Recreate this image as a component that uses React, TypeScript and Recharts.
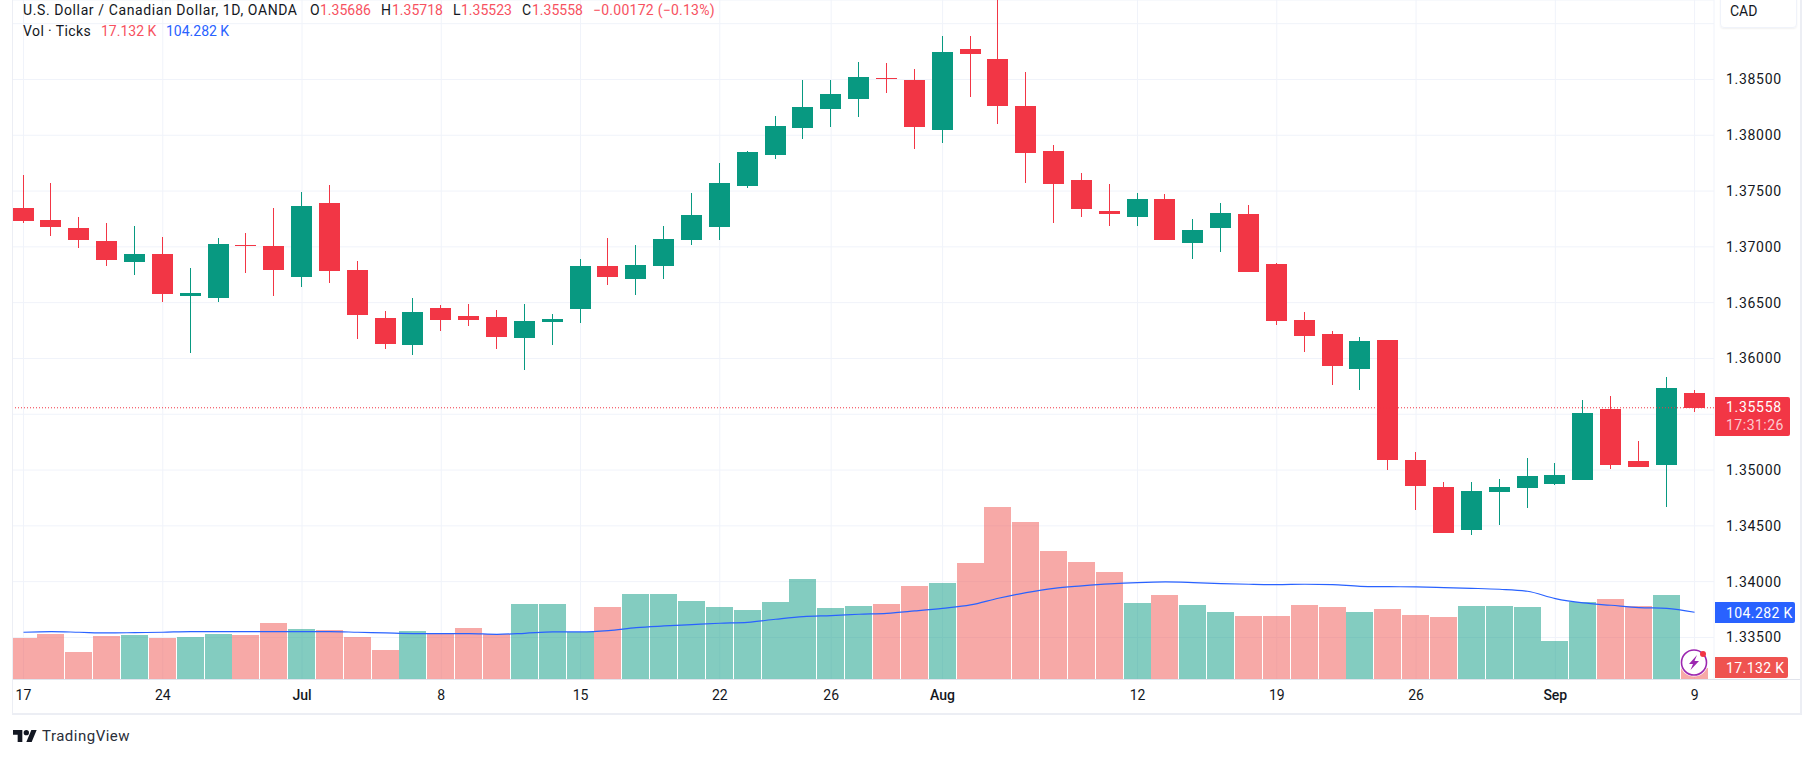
import React from 'react';
import { ComposedChart, Bar, Line, XAxis, YAxis, CartesianGrid, ReferenceLine } from 'recharts';

const dates = [
  '06-17','06-18','06-19','06-20','06-21','06-24','06-25','06-26','06-27','06-28',
  '07-01','07-02','07-03','07-04','07-05','07-08','07-09','07-10','07-11','07-12',
  '07-15','07-16','07-17','07-18','07-19','07-22','07-23','07-24','07-25','07-26',
  '07-29','07-30','07-31','08-01','08-02','08-05','08-06','08-07','08-08','08-09',
  '08-12','08-13','08-14','08-15','08-16','08-19','08-20','08-21','08-22','08-23',
  '08-26','08-27','08-28','08-29','08-30','09-02','09-03','09-04','09-05','09-06','09-09',
];
const opens = [
  1.37347,1.37239,1.37168,1.37051,1.36863,1.36935,1.36558,1.36541,1.37015,1.37006,
  1.36729,1.37392,1.36791,1.36361,1.36119,1.36451,1.36379,1.3637,1.36182,1.36325,
  1.36442,1.36827,1.36711,1.36827,1.3706,1.37177,1.37544,1.37822,1.38064,1.38234,
  1.38324,1.38512,1.38494,1.38046,1.38772,1.38682,1.38261,1.37858,1.37598,1.3732,
  1.37266,1.37428,1.37033,1.37168,1.37293,1.36845,1.36343,1.36218,1.35904,1.36164,
  1.35089,1.34847,1.34462,1.34802,1.34838,1.34874,1.3491,1.35546,1.3508,1.35044,1.35686,
];
const highs = [
  1.37643,1.37571,1.37266,1.37213,1.37186,1.37087,1.36809,1.37078,1.37123,1.37347,
  1.3749,1.37553,1.36872,1.36424,1.36541,1.36478,1.36487,1.36433,1.36487,1.36397,
  1.3689,1.37078,1.37015,1.37186,1.37481,1.3775,1.37858,1.38171,1.38494,1.38494,
  1.38655,1.38646,1.38593,1.38888,1.38888,1.3921,1.38566,1.37912,1.37661,1.37562,
  1.37481,1.37472,1.37248,1.37392,1.37374,1.36854,1.36415,1.36245,1.36191,1.36164,
  1.3516,1.34892,1.34892,1.34919,1.35107,1.35062,1.35627,1.35662,1.35259,1.35833,1.35718,
];
const lows = [
  1.37213,1.37096,1.36989,1.36827,1.36747,1.36505,1.36048,1.36505,1.36765,1.36558,
  1.36639,1.36675,1.36173,1.36084,1.3603,1.36245,1.3629,1.36084,1.35895,1.36119,
  1.36316,1.36657,1.36567,1.36711,1.37015,1.3706,1.37526,1.37786,1.37965,1.38073,
  1.38162,1.38378,1.37876,1.37929,1.38342,1.381,1.37571,1.37213,1.37266,1.37186,
  1.37186,1.3706,1.3689,1.36953,1.36773,1.36299,1.36057,1.35764,1.35716,1.34999,
  1.34641,1.34435,1.34417,1.34506,1.34659,1.34865,1.3491,1.35008,1.35026,1.34671,1.35523,
];
const closes = [
  1.37231,1.37177,1.3706,1.36881,1.36935,1.36576,1.36585,1.37024,1.37006,1.36791,
  1.37365,1.36782,1.36388,1.36128,1.36415,1.36343,1.36343,1.36191,1.36334,1.36352,
  1.36827,1.36729,1.36836,1.37069,1.37284,1.37571,1.37849,1.38082,1.38252,1.38369,
  1.38521,1.38503,1.38073,1.38745,1.38727,1.38261,1.3784,1.37562,1.37338,1.37293,
  1.37428,1.3706,1.3715,1.37302,1.36773,1.36334,1.362,1.35931,1.36155,1.35089,
  1.34856,1.34435,1.34811,1.34847,1.34945,1.34954,1.3551,1.35044,1.35026,1.35734,1.35558,
];
const volumes = [
  64.3,70.6,42.5,67.4,69,64.3,65.9,70.6,69,87.7,
  78.3,76.8,65.9,45.7,75.2,70.6,79.9,70.6,117.2,117.2,
  74.2,112.6,132.8,132.8,121.9,112.6,107.9,120.4,156.2,111,
  114.1,117.2,145.3,149.9,181.1,268.2,244.9,199.7,182.6,167.1,
  118.8,131.3,115.7,104.8,98.6,98.6,115.7,112.6,104.8,109.5,
  100.1,97,114.1,114.1,112.6,59.7,120.4,125,114.1,131.3,17.132,
];
const volumeMA = [
  73.2,74.2,73.2,72.1,72.6,73.2,74.2,74.2,74.2,74.2,
  74.2,74.2,73.2,72.1,71.1,71.1,71.1,70,71.6,73.7,
  73.7,75.7,80.4,83,85.1,87.2,88.7,93.4,97.5,99.1,
  101.2,102.7,106.4,110.5,115.7,126.1,134.9,141.6,145.3,148.4,
  150.5,151.5,150.5,148.9,147.9,147.3,147.9,147.3,144.7,144.2,
  143.7,142.7,141.6,140.1,137,125.5,118.8,115.2,111.5,110.5,104.282,
];
const tickDates = ['06-17','06-24','07-01','07-08','07-15','07-22','07-26','08-01','08-12','08-19','08-26','09-02','09-09'];
const tickLabels = ['17','24','Jul','8','15','22','26','Aug','12','19','26','Sep','9'];
const monthLabels = ['Jul','Aug','Sep'];
const priceTicks = [1.335,1.34,1.345,1.35,1.355,1.36,1.365,1.37,1.375,1.38,1.385,1.39];
const hiddenPriceLabels = [1.355, 1.39];
const lastPrice = 1.35558;

const data = dates.map((date, i) => ({
  date,
  open: opens[i],
  high: highs[i],
  low: lows[i],
  close: closes[i],
  range: [lows[i], highs[i]],
  vol: volumes[i],
  ma: volumeMA[i],
}));

const UP = '#089981';
const DOWN = '#F23645';
const FONT = 'Roboto, sans-serif';

function Candle(p: any) {
  const { x, y, width, height, payload } = p;
  const k = height / (payload.high - payload.low);
  const top = Math.max(payload.open, payload.close);
  const bot = Math.min(payload.open, payload.close);
  const fill = payload.close >= payload.open ? UP : DOWN;
  const cx = Math.round(x + width / 2 - 0.5);
  return (
    <g shapeRendering="crispEdges">
      <rect x={cx} y={y} width={1} height={height} fill={fill} />
      <rect x={x} y={y + (payload.high - top) * k} width={width} height={Math.max(1, (top - bot) * k)} fill={fill} />
    </g>
  );
}

function VolumeBar(p: any) {
  const { x, y, width, height, payload } = p;
  const fill = payload.close >= payload.open ? 'rgba(8,153,129,0.5)' : 'rgba(239,83,80,0.5)';
  return <rect x={x} y={y} width={width} height={height} fill={fill} shapeRendering="crispEdges" />;
}

function TimeTick(p: any) {
  const label = tickLabels[tickDates.indexOf(p.payload.value)];
  const month = monthLabels.includes(label);
  return (
    <text x={p.x} y={p.y - 17} textAnchor="middle" fontFamily={FONT} fontSize={14}
      fontWeight={month ? 500 : 400} fill="#131722">{label}</text>
  );
}

function T({ x, y, color = '#131722', size = 14, spacing = 0, children }: any) {
  return (
    <span style={{ position: 'absolute', left: x, top: y, color, fontSize: size, fontFamily: FONT,
      letterSpacing: spacing, lineHeight: '16px', whiteSpace: 'nowrap' }}>{children}</span>
  );
}

function Box({ x, y, w, h, bg }: any) {
  return <div style={{ position: 'absolute', left: x, top: y, width: w, height: h, background: bg, borderRadius: '0 2px 2px 0' }} />;
}

export default function App() {
  return (
    <div style={{ position: 'absolute', left: 0, top: 0, width: 1814, height: 758, background: '#fff', overflow: 'hidden' }}>
      <ComposedChart width={1814} height={758} data={data} margin={{ top: 0, right: 0, bottom: 0, left: 9.57 }}>
        <CartesianGrid xAxisId="volX" yAxisId="price" stroke="#f0f3fa" strokeWidth={1} />
        <XAxis xAxisId="volX" dataKey="date" ticks={tickDates} interval={0} height={78.7}
          padding={{ left: 0, right: 5.5 }} axisLine={false} tickLine={false} tick={TimeTick} />
        <XAxis xAxisId="priceX" dataKey="date" hide padding={{ left: 0, right: 5.5 }} />
        <YAxis yAxisId="price" orientation="right" width={100} type="number"
          domain={[1.33125, 1.39212]} ticks={priceTicks} allowDataOverflow interval={0}
          axisLine={false} tickLine={false} tickMargin={6}
          tick={{ fontFamily: FONT, fontSize: 14, fill: '#131722', letterSpacing: 0.7 }}
          tickFormatter={(v: number) => (hiddenPriceLabels.includes(v) ? '' : v.toFixed(5))} />
        <YAxis yAxisId="vol" hide type="number" domain={[0, 1057]} allowDataOverflow />
        <Bar xAxisId="volX" yAxisId="vol" dataKey="vol" barSize={27} shape={VolumeBar} isAnimationActive={false} />
        <Line xAxisId="volX" yAxisId="vol" dataKey="ma" type="monotone" dot={false} stroke="#2962FF"
          strokeWidth={1.2} isAnimationActive={false} />
        <ReferenceLine xAxisId="volX" yAxisId="price" y={lastPrice} stroke="#F23645" strokeWidth={1} strokeDasharray="1 2" />
        <Bar xAxisId="priceX" yAxisId="price" dataKey="range" barSize={21} shape={Candle} isAnimationActive={false} />
      </ComposedChart>

      {/* frame */}
      <div style={{ position: 'absolute', left: 0, top: 0, width: 12, height: 714, background: '#fff', borderRight: '1px solid #eceef4' }} />
      <div style={{ position: 'absolute', left: 13, top: 679, width: 1788, height: 1, background: '#e0e3eb' }} />
      <div style={{ position: 'absolute', left: 12, top: 713, width: 1790, height: 2, background: '#eceef4' }} />
      <div style={{ position: 'absolute', left: 1800, top: 0, width: 2, height: 715, background: '#eceef4' }} />

      {/* legend */}
      <T x={23} y={2} spacing={0.6}>U.S. Dollar / Canadian Dollar, 1D, OANDA</T>
      <T x={310} y={2}>O</T><T x={320} y={2} color="#F7525F">1.35686</T>
      <T x={381} y={2}>H</T><T x={392} y={2} color="#F7525F">1.35718</T>
      <T x={453} y={2}>L</T><T x={461} y={2} color="#F7525F">1.35523</T>
      <T x={522} y={2}>C</T><T x={532} y={2} color="#F7525F">1.35558</T>
      <T x={593} y={2} spacing={0.25} color="#F7525F">−0.00172 (−0.13%)</T>
      <T x={23} y={23} spacing={0.4}>Vol · Ticks</T>
      <T x={101} y={23} color="#F7525F">17.132 K</T>
      <T x={166} y={23} color="#2962FF">104.282 K</T>

      {/* currency box */}
      <div style={{ position: 'absolute', left: 1720, top: -10, width: 75, height: 36, border: '1px solid #f0f3fa', borderRadius: 4, boxShadow: '0 1px 2px rgba(0,0,0,0.06)' }} />
      <T x={1730} y={3}>CAD</T>

      {/* price-scale labels */}
      <Box x={1715} y={397} w={75} h={39} bg="#F23645" />
      <T x={1726} y={399} color="#fff" spacing={0.7}>1.35558</T>
      <T x={1726} y={417} color="rgba(255,255,255,0.75)" spacing={0.5}>17:31:26</T>
      <Box x={1715} y={602} w={80} h={21} bg="#2962FF" />
      <T x={1726} y={605} color="#fff" spacing={0.4}>104.282 K</T>
      <Box x={1715} y={657} w={73} h={21} bg="#EF5350" />
      <T x={1726} y={660} color="#fff" spacing={0.4}>17.132 K</T>

      {/* badge */}
      <svg style={{ position: 'absolute', left: 1678, top: 646 }} width={32} height={32} viewBox="0 0 32 32">
        <circle cx={16} cy={16.5} r={14} fill="#fff" />
        <circle cx={16} cy={16.5} r={12.5} fill="none" stroke="#9C27B0" strokeWidth={1.6} />
        <path d="M19 9 L11 18 H15 L12.5 24 L21 15 H16.5 Z" fill="#9C27B0" />
        <circle cx={25} cy={8} r={3} fill="#F23645" />
      </svg>

      {/* logo */}
      <svg style={{ position: 'absolute', left: 13, top: 730 }} width={24} height={12} viewBox="0 4 36 18">
        <path d="M14 22H7V11H0V4h14v18zM28 22h-8l7.5-18h8L28 22z" fill="#131722" />
        <circle cx={20} cy={8} r={4} fill="#131722" />
      </svg>
      <T x={42} y={728} size={15} spacing={0.5} color="#2a2e39">TradingView</T>
    </div>
  );
}
